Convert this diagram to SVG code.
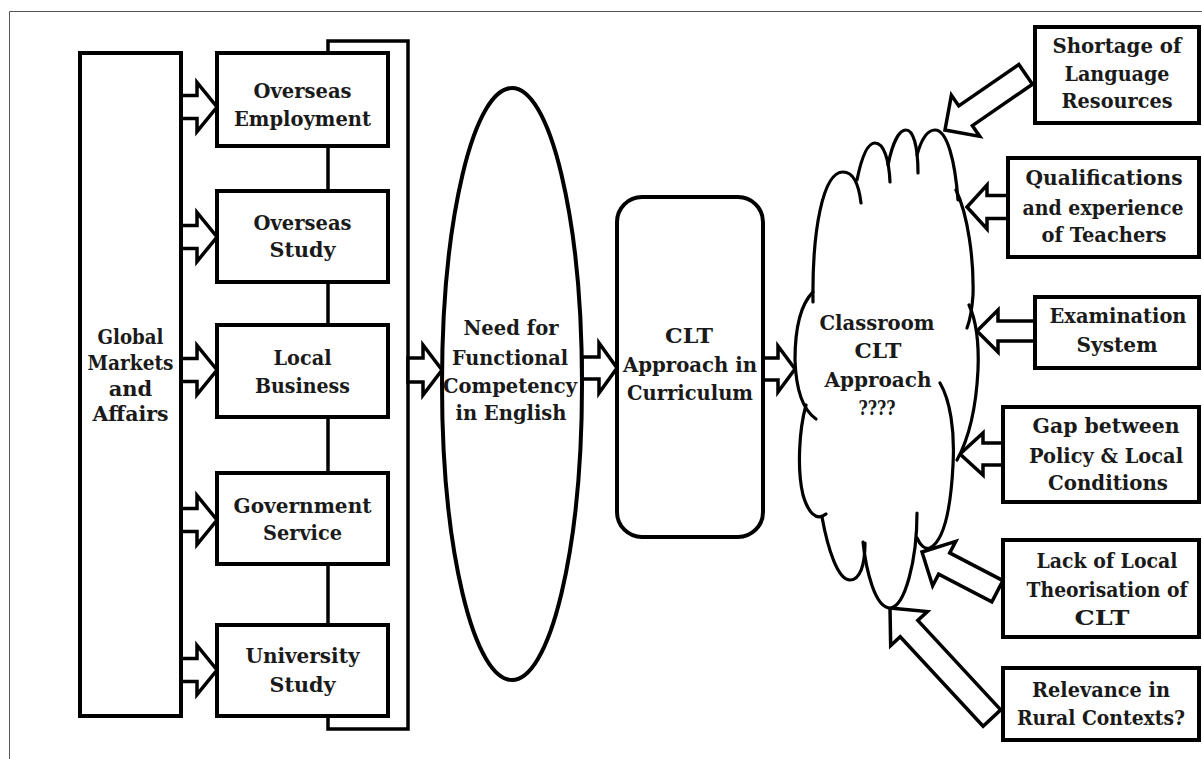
<svg xmlns="http://www.w3.org/2000/svg" width="1202" height="759" viewBox="0 0 1202 759">
<style>
.box{fill:#fff;stroke:#000;stroke-width:4}
.ln{fill:none;stroke:#000;stroke-width:3.5}
.arr{fill:#fff;stroke:#000;stroke-width:3.5;stroke-linejoin:miter}
.cl{fill:none;stroke:#000;stroke-width:3.2;stroke-linecap:round}
text{font-family:"DejaVu Serif","Liberation Serif",serif;font-weight:bold;font-size:21px;fill:#1a1a1a;text-anchor:middle}
.sm{font-size:19.5px}
</style>
<rect width="1202" height="759" fill="#fff"/>
<path d="M9.5,759 V11.5 H1202" fill="none" stroke="#555" stroke-width="1"/>

<g id="connectors">
<path class="ln" d="M328,146 V191 M328,282 V325 M328,417 V473 M328,564 V625"/>
<path class="ln" d="M328,53 V41 H408 V729 H328 V716"/>
<polygon class="arr" points="181,95.5 197,95.5 197,82.5 217,107 197,131.5 197,118.5 181,118.5"/>
<polygon class="arr" points="181,225.5 197,225.5 197,212.5 217,237 197,261.5 197,248.5 181,248.5"/>
<polygon class="arr" points="181,358.5 197,358.5 197,345.5 217,370 197,394.5 197,381.5 181,381.5"/>
<polygon class="arr" points="181,508.5 197,508.5 197,495.5 217,520 197,544.5 197,531.5 181,531.5"/>
<polygon class="arr" points="181,658.5 197,658.5 197,645.5 217,670 197,694.5 197,681.5 181,681.5"/>
<polygon class="arr" points="408,358 423,358 423,345 442,370 423,395 423,382 408,382"/>
<polygon class="arr" points="582,357 599,357 599,343 617,368 599,393 599,379 582,379"/>
<polygon class="arr" points="763,358 778,358 778,346 795,369 778,392 778,380 763,380"/>
<polygon class="arr" points="1008,195.5 987,195.5 987,185 967,207 987,229 987,218.5 1008,218.5"/>
<polygon class="arr" points="1035,321 998,321 998,310 977,331 998,352 998,341 1035,341"/>
<polygon class="arr" points="1003,443 983,443 983,433 960,454 983,475 983,465 1003,465"/>
<polygon class="arr" transform="translate(945,130) rotate(-34.6)" points="0,0 25,-25 25,-12 98,-12 98,12 25,12 25,25"/>
<polygon class="arr" transform="translate(922,552) rotate(27.5)" points="0,0 25,-25 25,-12 85,-12 85,12 25,12 25,25"/>
<polygon class="arr" transform="translate(890,608) rotate(47.2)" points="0,0 28,-25 28,-12 150,-12 150,12 28,12 28,25"/>
</g>

<g id="global">
<rect class="box" x="80" y="53" width="101" height="663"/>
<text x="130.5" y="344" textLength="66" lengthAdjust="spacingAndGlyphs">Global</text>
<text x="130.5" y="370" textLength="86" lengthAdjust="spacingAndGlyphs">Markets</text>
<text x="130.5" y="396">and</text>
<text x="130.5" y="421" textLength="76" lengthAdjust="spacingAndGlyphs">Affairs</text>
</g>

<g id="overseas-employment">
<rect class="box" x="217" y="53" width="171" height="93"/>
<text x="302.5" y="98" textLength="98" lengthAdjust="spacingAndGlyphs">Overseas</text>
<text x="302.5" y="126" textLength="137" lengthAdjust="spacingAndGlyphs">Employment</text>
</g>

<g id="overseas-study">
<rect class="box" x="217" y="191" width="171" height="91"/>
<text x="302.5" y="230" textLength="98" lengthAdjust="spacingAndGlyphs">Overseas</text>
<text x="302.5" y="257" textLength="66" lengthAdjust="spacingAndGlyphs">Study</text>
</g>

<g id="local-business">
<rect class="box" x="217" y="325" width="171" height="92"/>
<text x="302.5" y="365" textLength="58" lengthAdjust="spacingAndGlyphs">Local</text>
<text x="302.5" y="393" textLength="95" lengthAdjust="spacingAndGlyphs">Business</text>
</g>

<g id="government-service">
<rect class="box" x="217" y="473" width="171" height="91"/>
<text x="302.5" y="513" textLength="138" lengthAdjust="spacingAndGlyphs">Government</text>
<text x="302.5" y="540" textLength="79" lengthAdjust="spacingAndGlyphs">Service</text>
</g>

<g id="university-study">
<rect class="box" x="217" y="625" width="171" height="91"/>
<text x="302.5" y="663" textLength="114" lengthAdjust="spacingAndGlyphs">University</text>
<text x="302.5" y="692" textLength="66" lengthAdjust="spacingAndGlyphs">Study</text>
</g>

<g id="need">
<ellipse class="box" cx="512" cy="384" rx="70" ry="296" stroke-width="3.5"/>
<text x="511" y="335" textLength="95" lengthAdjust="spacingAndGlyphs">Need for</text>
<text x="510" y="365" textLength="116" lengthAdjust="spacingAndGlyphs">Functional</text>
<text x="510" y="393" textLength="134" lengthAdjust="spacingAndGlyphs">Competency</text>
<text x="511" y="420" textLength="111" lengthAdjust="spacingAndGlyphs">in English</text>
</g>

<g id="clt-curriculum">
<rect class="box" x="617" y="197" width="146" height="340" rx="25" ry="25" stroke-width="3.5"/>
<text x="689" y="343" textLength="48" lengthAdjust="spacingAndGlyphs">CLT</text>
<text x="690" y="372" textLength="134" lengthAdjust="spacingAndGlyphs">Approach in</text>
<text x="690" y="400" textLength="126" lengthAdjust="spacingAndGlyphs">Curriculum</text>
</g>

<g id="classroom-cloud">
<path d="M813,300 C812,230 823,172 843,172 C854,172 859,186 861,203 L857,180 C862,155 868,143 875,143 C884,143 889,160 890,182 L888,165 C893,140 900,130 906,130 C913,130 918,145 918,173 L917,155 C922,137 928,130 935,130 C947,130 955,160 958,200 L956,190 C968,215 974,260 973,295 L969,305 C976,320 979,345 978,370 C976,410 968,440 957,460 L940,383 C950,400 955,430 953,465 C951,505 945,540 930,548 L917,538 L917,513 C917,560 905,607 890,608 C875,608 866,570 863,542 L865,543 C865,565 860,580 850,580 C838,580 828,550 822,517 L826,514 C816,522 808,512 803,495 C797,470 799,430 806,405 L816,419 C803,410 796,390 795,360 C795,330 800,305 813,292 Z" fill="#fff" stroke="none"/>
<path class="cl" d="M813,302 C812,230 823,172 843,172 C854,172 859,186 861,203"/>
<path class="cl" d="M857,180 C862,155 868,143 875,143 C884,143 889,160 890,182"/>
<path class="cl" d="M888,165 C893,140 900,130 906,130 C913,130 918,145 918,173"/>
<path class="cl" d="M917,155 C922,137 928,130 935,130 C947,130 955,160 958,200"/>
<path class="cl" d="M956,190 C968,215 974,260 973,295 C972,310 970,320 967,328"/>
<path class="cl" d="M969,305 C976,320 979,345 978,370 C976,410 968,440 957,460"/>
<path class="cl" d="M940,383 C950,400 955,430 953,465 C951,505 945,540 930,548 C925,550 920,545 917,538"/>
<path class="cl" d="M917,513 C917,560 905,607 890,608 C875,608 866,570 863,542"/>
<path class="cl" d="M865,543 C865,565 860,580 850,580 C838,580 828,550 822,517"/>
<path class="cl" d="M806,405 C799,430 797,470 803,495 C808,512 816,522 826,514"/>
<path class="cl" d="M813,292 C800,305 795,330 795,360 C796,390 803,410 816,419"/>
<text x="877" y="330" textLength="115" lengthAdjust="spacingAndGlyphs">Classroom</text>
<text x="878" y="358" textLength="47" lengthAdjust="spacingAndGlyphs">CLT</text>
<text x="878" y="387" textLength="107" lengthAdjust="spacingAndGlyphs">Approach</text>
<text x="877" y="415" textLength="37" lengthAdjust="spacingAndGlyphs">????</text>
</g>

<g id="shortage">
<rect class="box" x="1035" y="27" width="164" height="96"/>
<text x="1117" y="53" textLength="129" lengthAdjust="spacingAndGlyphs">Shortage of</text>
<text x="1117" y="81" textLength="105" lengthAdjust="spacingAndGlyphs">Language</text>
<text x="1117" y="108" textLength="111" lengthAdjust="spacingAndGlyphs">Resources</text>
</g>

<g id="qualifications">
<rect class="box" x="1008" y="158" width="191" height="99"/>
<text x="1104" y="185" textLength="157" lengthAdjust="spacingAndGlyphs">Qualifications</text>
<text x="1103" y="215" textLength="161" lengthAdjust="spacingAndGlyphs">and experience</text>
<text x="1104" y="242" textLength="125" lengthAdjust="spacingAndGlyphs">of Teachers</text>
</g>

<g id="examination">
<rect class="box" x="1035" y="297" width="164" height="71"/>
<text x="1118" y="323" textLength="137" lengthAdjust="spacingAndGlyphs">Examination</text>
<text x="1117" y="352" textLength="81" lengthAdjust="spacingAndGlyphs">System</text>
</g>

<g id="gap">
<rect class="box" x="1003" y="407" width="196" height="95"/>
<text x="1106" y="433" textLength="147" lengthAdjust="spacingAndGlyphs">Gap between</text>
<text x="1106" y="463" textLength="154" lengthAdjust="spacingAndGlyphs">Policy &amp; Local</text>
<text x="1108" y="490" textLength="120" lengthAdjust="spacingAndGlyphs">Conditions</text>
</g>

<g id="lack">
<rect class="box" x="1003" y="540" width="196" height="97"/>
<text x="1107" y="568" textLength="141" lengthAdjust="spacingAndGlyphs">Lack of Local</text>
<text class="sm" x="1107" y="597" textLength="161" lengthAdjust="spacingAndGlyphs">Theorisation of</text>
<text x="1102" y="625" textLength="55" lengthAdjust="spacingAndGlyphs">CLT</text>
</g>

<g id="relevance">
<rect class="box" x="1003" y="668" width="196" height="72"/>
<text x="1101" y="697" textLength="138" lengthAdjust="spacingAndGlyphs">Relevance in</text>
<text class="sm" x="1101" y="725" textLength="168" lengthAdjust="spacingAndGlyphs">Rural Contexts?</text>
</g>
</svg>
